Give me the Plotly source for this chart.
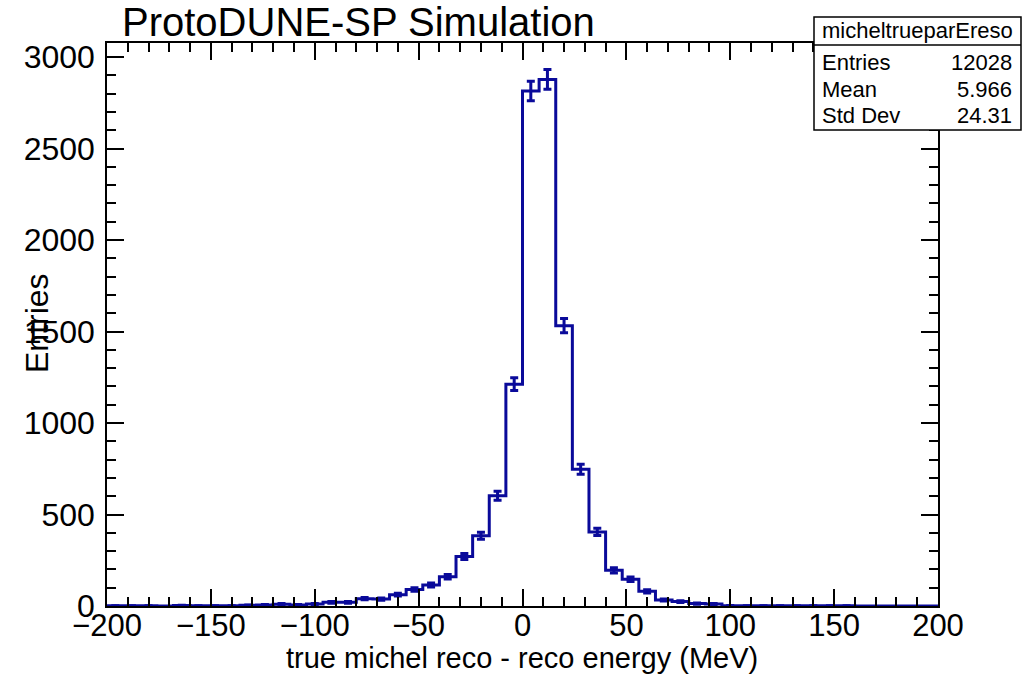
import numpy as np
import plotly.graph_objects as go

# ---------------- data ----------------
x_min, x_max, n_bins = -200, 200, 50
counts = [1, 1, 1, 0, 3, 1, 1, 1, 4, 6,
          10, 6, 11, 20, 20, 40, 38, 62, 90, 115,
          160, 270, 384, 603, 1212, 2815, 2878, 1532, 748, 405,
          195, 146, 80, 33, 24, 13, 11, 2, 1, 1,
          1, 1, 1, 1, 1, 0, 0, 0, 0, 0]
x_ticks = [-200, -150, -100, -50, 0, 50, 100, 150, 200]
y_ticks = [0, 500, 1000, 1500, 2000, 2500, 3000]
stats_name = "micheltrueparEreso"
stats_rows = [("Entries", "12028"), ("Mean", "5.966"), ("Std Dev", "24.31")]
title_text = "ProtoDUNE-SP Simulation"
x_title = "true michel reco - reco energy (MeV)"
y_title = "Entries"

# ---------------- derived ----------------
edges = np.linspace(x_min, x_max, n_bins + 1)
centers = 0.5 * (edges[:-1] + edges[1:])
cnt = np.array(counts, dtype=float)
nz = cnt > 0

BLUE = "#0a0a9a"
W, H = 1028, 675
L, R, T, B = 107, 90, 43, 69
pw, ph = W - L - R, H - T - B


def fx(px):
    return (px - L) / pw


def fy(py):
    return (H - B - py) / ph


fig = go.Figure()
fig.add_trace(go.Scatter(
    x=edges, y=list(cnt) + [cnt[-1]], mode="lines",
    line=dict(shape="hv", color=BLUE, width=3), hoverinfo="skip"))
fig.add_trace(go.Scatter(
    x=centers[nz], y=cnt[nz], mode="markers",
    marker=dict(size=2, color=BLUE),
    error_y=dict(type="data", array=np.sqrt(cnt[nz]), color=BLUE,
                 thickness=3, width=4)))

FONT = "Liberation Sans"
axis_common = dict(
    showline=True, linecolor="black", linewidth=1.5, mirror="allticks",
    ticks="inside", ticklen=17, tickwidth=1.5, tickcolor="black",
    showgrid=False, zeroline=False,
)
fig.update_xaxes(range=[x_min, x_max], tickvals=x_ticks,
                 tickfont=dict(family=FONT, size=31, color="black"),
                 minor=dict(dtick=10, ticks="inside", ticklen=9,
                            tickwidth=1.5, tickcolor="black", showgrid=False),
                 ticklabelstandoff=-9, **axis_common)
fig.update_yaxes(range=[0, 3077], tickvals=y_ticks,
                 tickfont=dict(family=FONT, size=32, color="black"),
                 minor=dict(dtick=100, ticks="inside", ticklen=9,
                            tickwidth=1.5, tickcolor="black", showgrid=False),
                 ticklabelstandoff=4, **axis_common)

ann = []
ann.append(dict(text=title_text, x=fx(120), y=fy(22), xref="paper", yref="paper",
                xanchor="left", yanchor="middle", showarrow=False,
                font=dict(family=FONT, size=40, color="black")))
ann.append(dict(text=x_title, x=fx(522), y=fy(658), xref="paper", yref="paper",
                xanchor="center", yanchor="middle", showarrow=False,
                font=dict(family=FONT, size=29, color="black")))
ann.append(dict(text=y_title, x=fx(37), y=fy(323), xref="paper", yref="paper",
                xanchor="center", yanchor="middle", showarrow=False, textangle=-90,
                font=dict(family=FONT, size=32, color="black")))

bx0, bx1, by0, by1, bdiv = 814, 1021, 17, 130, 45
shapes = [
    dict(type="rect", xref="paper", yref="paper", x0=fx(bx0), x1=fx(bx1),
         y0=fy(by1), y1=fy(by0), fillcolor="white",
         line=dict(color="black", width=1.5), layer="above"),
    dict(type="line", xref="paper", yref="paper", x0=fx(bx0), x1=fx(bx1),
         y0=fy(bdiv), y1=fy(bdiv), line=dict(color="black", width=1.5),
         layer="above"),
]
SF = 22
ann.append(dict(text=stats_name, x=fx((bx0 + bx1) / 2), y=fy(31), xref="paper",
                yref="paper", xanchor="center", yanchor="middle", showarrow=False,
                font=dict(family=FONT, size=SF, color="black")))
row_y = [62, 89, 116]
for (lab, val), yy in zip(stats_rows, row_y):
    ann.append(dict(text=lab, x=fx(820), y=fy(yy), xref="paper", yref="paper",
                    xanchor="left", yanchor="middle", showarrow=False,
                    font=dict(family=FONT, size=SF, color="black")))
    ann.append(dict(text=val, x=fx(1014), y=fy(yy), xref="paper", yref="paper",
                    xanchor="right", yanchor="middle", showarrow=False,
                    font=dict(family=FONT, size=SF, color="black")))

fig.update_layout(
    width=W, height=H, margin=dict(l=L, r=R, t=T, b=B, autoexpand=False),
    paper_bgcolor="white", plot_bgcolor="white", showlegend=False,
    annotations=ann, shapes=shapes,
)
fig.write_html("out.html")
